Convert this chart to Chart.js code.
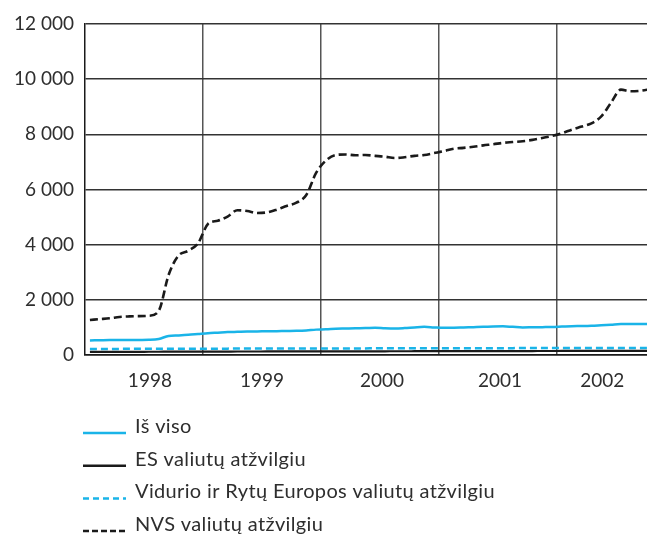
<!DOCTYPE html>
<html>
<head>
<meta charset="utf-8">
<script src="https://cdn.jsdelivr.net/npm/chart.js@4/dist/chart.umd.min.js"></script>
<style>
  html, body { margin: 0; padding: 0; background: #fff; }
  #wrap { width: 647px; height: 536px; }
</style>
</head>
<body>
<div id="wrap"><canvas id="chart" width="647" height="536"></canvas></div>
<script>
// monthly, Jan 1998 .. Oct 2002
const months = [];
for (let y = 1998; y <= 2002; y++) {
  for (let m = 1; m <= 12; m++) {
    if (y === 2002 && m > 10) break;
    months.push(y + "-" + String(m).padStart(2, "0"));
  }
}

const yearLabels = ["1998", "1999", "2000", "2001", "2002"];
const yearLabelPos = [6.6, 18, 30.2, 42.2, 52.6];
const yearBounds = [12, 24, 36, 48];

const isViso = [530, 535, 540, 540, 540, 545, 550, 580, 690, 710, 730, 760,
  790, 810, 830, 840, 850, 855, 860, 865, 870, 875, 890, 920,
  930, 950, 960, 970, 975, 990, 970, 960, 975, 1000, 1020, 1000,
  985, 990, 1000, 1010, 1020, 1035, 1040, 1020, 1000, 1005, 1010, 1015,
  1030, 1045, 1050, 1060, 1080, 1100, 1120, 1120, 1120, 1120];

const esVal = [110, 110, 112, 112, 115, 115, 118, 118, 120, 120, 122, 122,
  124, 124, 125, 126, 126, 127, 128, 128, 129, 130, 130, 131,
  132, 132, 133, 134, 134, 135, 135, 136, 136, 137, 138, 138,
  139, 140, 140, 141, 141, 142, 142, 143, 144, 144, 145, 145,
  146, 146, 147, 147, 148, 148, 149, 150, 150, 150];

const vreVal = [220, 220, 222, 222, 224, 224, 225, 225, 226, 226, 228, 228,
  230, 230, 231, 232, 232, 233, 234, 234, 235, 236, 236, 237,
  238, 238, 239, 240, 240, 241, 241, 242, 242, 243, 244, 244,
  245, 246, 246, 247, 247, 248, 248, 249, 250, 250, 251, 251,
  252, 252, 253, 254, 255, 256, 257, 258, 258, 258];

const nvsVal = [1270, 1300, 1330, 1380, 1400, 1410, 1420, 1600, 2900, 3600, 3780, 4050,
  4750, 4870, 5020, 5250, 5220, 5150, 5170, 5270, 5400, 5520, 5800, 6600,
  7050, 7250, 7270, 7240, 7250, 7220, 7190, 7140, 7170, 7220, 7250, 7320,
  7390, 7480, 7510, 7550, 7600, 7640, 7690, 7720, 7750, 7800, 7870, 7940,
  8040, 8170, 8280, 8400, 8650, 9150, 9620, 9560, 9580, 9640];

const BLUE = "#1ab4e8";
const INK = "#1a1a1a";
const TEXT = "#2e2e2e";
const FONT = "Lato, 'Open Sans', sans-serif";

const pts = (arr) => arr.map((v, i) => ({ x: i + 0.5, y: v }));

const thousands = (v) => String(v).replace(/\B(?=(\d{3})+(?!\d))/g, " ");

// legend drawn under the plot, one item per row
const listLegend = {
  id: "listLegend",
  afterDraw(chart) {
    const ctx = chart.ctx;
    ctx.save();
    ctx.font = "20px " + FONT;
    ctx.letterSpacing = "0.35px";
    ctx.fillStyle = TEXT;
    ctx.textBaseline = "alphabetic";
    chart.data.datasets.forEach((ds, i) => {
      const y = 433 + i * 32.7;
      ctx.beginPath();
      ctx.setLineDash(ds.legendDash || []);
      ctx.strokeStyle = ds.borderColor;
      ctx.lineWidth = 2.5;
      ctx.moveTo(83, y);
      ctx.lineTo(126, y);
      ctx.stroke();
      ctx.setLineDash([]);
      ctx.fillText(ds.label, 135, y);
    });
    ctx.restore();
  }
};

new Chart(document.getElementById("chart"), {
  type: "line",
  data: {
    datasets: [
      {
        label: "Iš viso",
        data: pts(isViso),
        borderColor: BLUE,
        borderWidth: 2.5
      },
      {
        label: "ES valiutų atžvilgiu",
        data: pts(esVal),
        borderColor: INK,
        borderWidth: 2.2
      },
      {
        label: "Vidurio ir Rytų Europos valiutų atžvilgiu",
        data: pts(vreVal),
        borderColor: BLUE,
        borderWidth: 2.5,
        borderDash: [7, 4],
        legendDash: [6, 4]
      },
      {
        label: "NVS valiutų atžvilgiu",
        data: pts(nvsVal),
        borderColor: INK,
        borderWidth: 2.6,
        borderDash: [8, 4],
        legendDash: [6, 3]
      }
    ]
  },
  options: {
    responsive: false,
    animation: false,
    layout: { padding: { top: 24, right: 0, left: 0, bottom: 0 } },
    elements: {
      point: { radius: 0 },
      line: { cubicInterpolationMode: "monotone", fill: false }
    },
    plugins: {
      legend: { display: false },
      tooltip: { enabled: false }
    },
    scales: {
      x: {
        type: "linear",
        min: 0,
        max: 57.15,
        afterBuildTicks: (scale) => {
          const t = yearLabelPos.map((v) => ({ value: v }))
            .concat(yearBounds.map((v) => ({ value: v })));
          t.sort((a, b) => a.value - b.value);
          scale.ticks = t;
        },
        afterFit: (scale) => { scale.height = 181; },
        ticks: {
          autoSkip: false,
          maxRotation: 0,
          padding: 14,
          color: TEXT,
          font: { family: FONT, size: 19 },
          callback: (v) => {
            const k = yearLabelPos.indexOf(v);
            return k >= 0 ? yearLabels[k] : "";
          }
        },
        grid: {
          drawTicks: false,
          lineWidth: 1.5,
          color: (c) => (yearBounds.includes(c.tick && c.tick.value) ? "#555" : "rgba(0,0,0,0)")
        },
        border: { display: true, color: INK, width: 1.5 }
      },
      y: {
        min: 0,
        max: 12000,
        afterFit: (scale) => { scale.width = 85; },
        ticks: {
          stepSize: 2000,
          padding: 11,
          color: TEXT,
          font: { family: FONT, size: 19 },
          callback: (v) => thousands(v)
        },
        grid: {
          drawTicks: false,
          lineWidth: 1.5,
          color: (c) => (c.tick && c.tick.value === 0 ? INK : "#333")
        },
        border: { display: true, color: INK, width: 1.5 }
      }
    }
  },
  plugins: [listLegend]
});
</script>
</body>
</html>
